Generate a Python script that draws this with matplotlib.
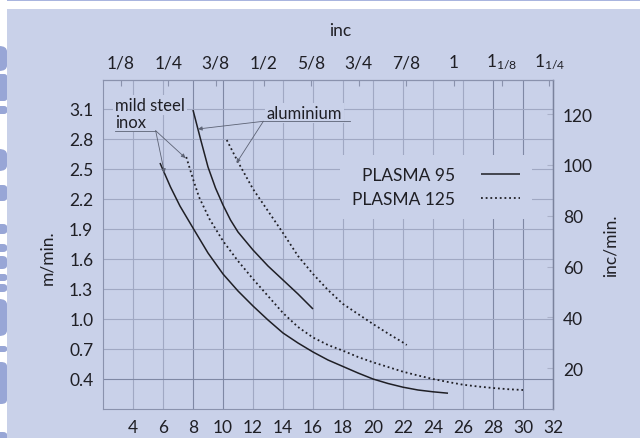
import matplotlib
matplotlib.use("Agg")
import matplotlib.pyplot as plt
from matplotlib.patches import FancyBboxPatch, Rectangle

plt.rcParams["font.family"] = ["Lato", "DejaVu Sans"]
plt.rcParams["mathtext.fontset"] = "custom"
plt.rcParams["mathtext.rm"] = "Lato"

# Cutting speed (m/min) against plate thickness (mm)
steel_p95_mm = [5.8, 6.5, 7.13, 8, 9, 10, 11, 12, 13, 14, 15, 16, 17, 18, 19, 20, 21, 22, 23, 24, 25]
steel_p95_speed = [2.56, 2.32, 2.13, 1.91, 1.66, 1.45, 1.28, 1.13, 0.99, 0.86, 0.76, 0.67, 0.59,
                   0.525, 0.46, 0.40, 0.355, 0.318, 0.29, 0.272, 0.258]

steel_p125_mm = [7.55, 8, 8.4, 9.1, 10, 11, 12, 13, 14, 15, 16, 17, 18, 19, 20, 21, 22, 23, 24,
                 25, 26, 27, 28, 29, 30]
steel_p125_speed = [2.62, 2.40, 2.22, 2.0, 1.78, 1.58, 1.40, 1.23, 1.06, 0.92, 0.815, 0.74, 0.683,
                    0.62, 0.567, 0.52, 0.473, 0.435, 0.40, 0.37, 0.343, 0.325, 0.31, 0.298, 0.29]

alu_p95_mm = [8.0, 8.5, 9.0, 9.5, 10, 10.5, 11, 12, 13, 14, 15, 16]
alu_p95_speed = [3.09, 2.80, 2.52, 2.31, 2.14, 1.99, 1.87, 1.69, 1.53, 1.39, 1.25, 1.10]

alu_p125_mm = [10.25, 11, 12, 13, 14, 15, 16, 17, 18, 19, 20, 21, 22, 22.25]
alu_p125_speed = [2.79, 2.57, 2.30, 2.08, 1.86, 1.63, 1.45, 1.29, 1.15, 1.05, 0.95, 0.855, 0.765, 0.74]

mm_ticks = [4, 6, 8, 10, 12, 14, 16, 18, 20, 22, 24, 26, 28, 30, 32]
speed_ticks = [0.4, 0.7, 1.0, 1.3, 1.6, 1.9, 2.2, 2.5, 2.8, 3.1]
inch_ticks = [1/8, 1/4, 3/8, 1/2, 5/8, 3/4, 7/8, 1, 9/8, 5/4]
inch_labels = ["1/8", "1/4", "3/8", "1/2", "5/8", "3/4", "7/8", "1",
               r"1$\mathregular{_{1/8}}$", r"1$\mathregular{_{1/4}}$"]
ipm_ticks = [20, 40, 60, 80, 100, 120]

MM_PER_INCH = 25.4
IPM_PER_MPM = 39.37

BG = "#c9d1e9"
INK = "#1f1f25"
GRID = "#a0a8c3"
GRID_DARK = "#7f88a4"
SPINE = "#8a92ad"
BLOB = "#98a6d6"

W, H = 640, 439
fig = plt.figure(figsize=(W / 100, H / 100), dpi=100)
fig.patch.set_facecolor("white")


def fx(px):
    return px / W


def fy(py):
    return 1 - py / H


# page background, header rule and the margin shapes
fig.patches.append(Rectangle((fx(7), 0), fx(633), fy(10), transform=fig.transFigure,
                             facecolor=BG, edgecolor="none", zorder=-10))
fig.patches.append(Rectangle((fx(7), fy(1.5)), fx(633), 1.5 / H, transform=fig.transFigure,
                             facecolor="#a9b5df", edgecolor="none", zorder=-10))
blobs = [(47, 72, 8), (75, 102, 3), (107, 115, 3), (150, 172, 8), (186, 202, 4),
         (225, 235, 4), (245, 253, 4), (257, 270, 5), (275, 282, 3), (285, 293, 4),
         (300, 337, 8), (347, 353, 3), (363, 405, 6), (433, 445, 4)]
for top, bottom, r in blobs:
    fig.patches.append(FancyBboxPatch((fx(-8), fy(bottom)), fx(15), (bottom - top) / H,
                                      boxstyle=f"round,pad=0,rounding_size={r / W:.4f}",
                                      transform=fig.transFigure, facecolor=BLOB,
                                      edgecolor="none", zorder=-9))

ax = fig.add_axes([fx(103), 29 / H, 450 / W, 329 / H])
ax.set_facecolor(BG)
ax.set_xlim(2, 32)
ax.set_ylim(0.1, 3.39)

ax.set_xticks(mm_ticks)
ax.set_yticks(speed_ticks, labels=[f"{v:.1f}" for v in speed_ticks])
ax.tick_params(axis="both", length=0, labelsize=12.5, labelcolor=INK, pad=7)

ax.grid(True, color=GRID, lw=0.8, zorder=0)
for val, gl in zip(mm_ticks, ax.xaxis.get_gridlines()):
    if val in (8, 10, 28, 30):
        gl.set_color(GRID_DARK)
for val, gl in zip(speed_ticks, ax.yaxis.get_gridlines()):
    if val == 0.4:
        gl.set_color(GRID_DARK)

for side in ("left", "bottom", "top"):
    ax.spines[side].set_color(SPINE)
    ax.spines[side].set_linewidth(0.8)
ax.spines["right"].set_color("#7a829c")
ax.spines["right"].set_linewidth(1.0)

line_kw = dict(color=INK, lw=1.1, solid_capstyle="butt")
dot_kw = dict(color=INK, lw=1.3, linestyle=(0, (1.0, 1.6)))
ax.plot(steel_p95_mm, steel_p95_speed, label="PLASMA 95", **line_kw)
ax.plot(steel_p125_mm, steel_p125_speed, label="PLASMA 125", **dot_kw)
ax.plot(alu_p95_mm, alu_p95_speed, **line_kw)
ax.plot(alu_p125_mm, alu_p125_speed, **dot_kw)

# material call-outs
box = dict(facecolor=BG, edgecolor="none", pad=1.5)
note_kw = dict(fontsize=12, color=INK, va="center", ha="left", bbox=box, zorder=4)
ax.text(2.8, 3.143, "mild steel", **note_kw)
ax.text(2.8, 2.97, "inox", **note_kw)
ax.text(12.93, 3.06, "aluminium", **note_kw)

lead = "#5c6274"
ax.plot([2.8, 5.51], [2.883, 2.883], color=lead, lw=0.6, zorder=4)
ax.plot([12.69, 18.47], [2.977, 2.977], color=lead, lw=0.6, zorder=4)
arrow = dict(arrowstyle="-|>", color=lead, lw=0.6, mutation_scale=6, shrinkA=0, shrinkB=0)
for target in [(6.1, 2.46), (7.5, 2.61)]:
    ax.annotate("", xy=target, xytext=(5.51, 2.883), arrowprops=arrow)
for target in [(8.33, 2.90), (10.9, 2.56)]:
    ax.annotate("", xy=target, xytext=(12.69, 2.977), arrowprops=arrow)

leg = ax.legend(loc="upper left", bbox_to_anchor=(0.527, 0.772), borderaxespad=0,
                frameon=True, facecolor=BG, edgecolor="none", framealpha=1, fancybox=False,
                markerfirst=False, fontsize=12.5, handlelength=2.2, handletextpad=1.5,
                labelspacing=0.45, borderpad=0.7)
for t in leg.get_texts():
    t.set_color(INK)

ax.set_ylabel("m/min.", fontsize=12.5, color=INK)
ax.yaxis.set_label_coords(-0.107, 0.462)

# inch scales along the top and on the right
top = ax.secondary_xaxis("top", functions=(lambda mm: mm / MM_PER_INCH,
                                           lambda inch: inch * MM_PER_INCH))
top.set_xticks(inch_ticks, labels=inch_labels)
top.tick_params(direction="in", length=4, width=0.8, color=SPINE, labelsize=12.5,
                labelcolor=INK, pad=7)
top.spines["top"].set_color(SPINE)
top.spines["top"].set_linewidth(0.8)
top.set_xlabel("inc", fontsize=12.5, color=INK)
top.xaxis.set_label_coords(0.528, 1.137, transform=ax.transAxes)

right = ax.secondary_yaxis("right", functions=(lambda m: m * IPM_PER_MPM,
                                               lambda i: i / IPM_PER_MPM))
right.set_yticks(ipm_ticks)
right.tick_params(direction="in", length=4, width=0.8, color="#aab1c9", labelsize=12.5,
                  labelcolor=INK, pad=7)
right.spines["right"].set_color("#7a829c")
right.set_ylabel("inc/min.", fontsize=12.5, color=INK)
right.yaxis.set_label_coords(1.111, 0.5, transform=ax.transAxes)

fig.savefig("out.png", dpi=100, facecolor=fig.get_facecolor())
